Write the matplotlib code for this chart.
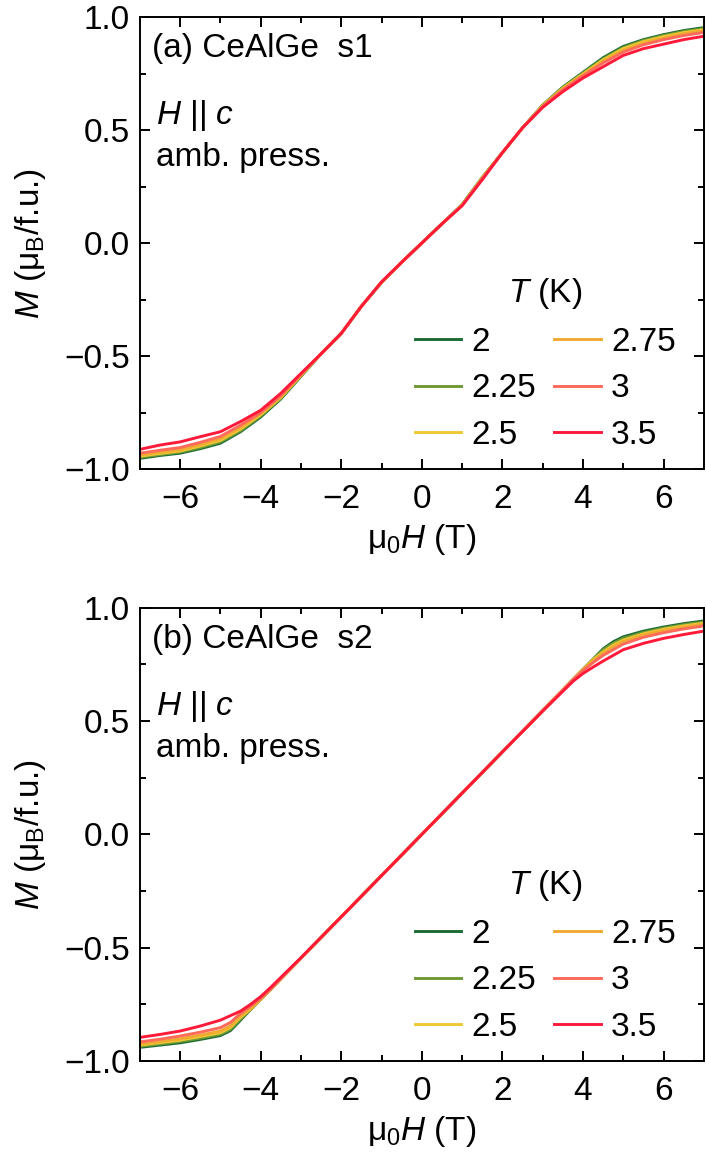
import matplotlib
matplotlib.use("Agg")
import matplotlib.pyplot as plt
from matplotlib.ticker import MultipleLocator

plt.rcParams['font.family'] = ['Liberation Sans', 'DejaVu Sans']
plt.rcParams['mathtext.fontset'] = 'custom'
plt.rcParams['mathtext.rm'] = 'Liberation Sans'
plt.rcParams['mathtext.it'] = 'Liberation Sans:italic'
plt.rcParams['font.size'] = 24
plt.rcParams['axes.linewidth'] = 1.4

# temperatures (K) and line colours
temps = ['2', '2.25', '2.5', '2.75', '3', '3.5']
colors = ['#1d6b35', '#6f9a35', '#f0c832', '#f0aa32', '#ff6a5a', '#ff1a3a']

# panel (a) CeAlGe s1
h_a = [-7, -6.5, -6, -5.5, -5, -4.5, -4, -3.5, -3, -2.5, -2, -1.5, -1, -0.5, 0,
       0.5, 1, 1.5, 2, 2.5, 3, 3.5, 4, 4.5, 5, 5.5, 6, 6.5, 7]
m_a_2 = [-0.953, -0.94, -0.93, -0.91, -0.886, -0.835, -0.77, -0.69, -0.59, -0.49, -0.40, -0.28, -0.175, -0.085, 0.0,
         0.085, 0.17, 0.29, 0.40, 0.51, 0.61, 0.69, 0.755, 0.82, 0.87, 0.90, 0.922, 0.94, 0.953]
m_a_225 = [-0.948, -0.936, -0.925, -0.905, -0.88, -0.83, -0.765, -0.687, -0.588, -0.49, -0.40, -0.28, -0.175, -0.085, 0.0,
           0.085, 0.17, 0.29, 0.40, 0.51, 0.61, 0.688, 0.752, 0.815, 0.865, 0.896, 0.918, 0.936, 0.948]
m_a_25 = [-0.943, -0.931, -0.92, -0.898, -0.873, -0.823, -0.76, -0.683, -0.586, -0.49, -0.40, -0.28, -0.174, -0.085, 0.0,
          0.085, 0.168, 0.288, 0.40, 0.51, 0.608, 0.685, 0.748, 0.81, 0.86, 0.891, 0.913, 0.931, 0.944]
m_a_275 = [-0.938, -0.926, -0.914, -0.892, -0.866, -0.816, -0.755, -0.679, -0.584, -0.49, -0.40, -0.28, -0.174, -0.085, 0.0,
           0.085, 0.168, 0.287, 0.40, 0.51, 0.606, 0.682, 0.744, 0.804, 0.853, 0.885, 0.907, 0.926, 0.94]
m_a_3 = [-0.93, -0.917, -0.905, -0.882, -0.856, -0.806, -0.75, -0.675, -0.582, -0.49, -0.40, -0.28, -0.173, -0.085, 0.0,
         0.085, 0.167, 0.285, 0.40, 0.51, 0.605, 0.678, 0.74, 0.797, 0.845, 0.877, 0.90, 0.918, 0.932]
m_a_35 = [-0.913, -0.894, -0.88, -0.857, -0.835, -0.79, -0.74, -0.665, -0.577, -0.49, -0.40, -0.28, -0.172, -0.085, 0.0,
          0.085, 0.165, 0.28, 0.40, 0.51, 0.60, 0.67, 0.73, 0.78, 0.83, 0.86, 0.88, 0.90, 0.915]

# panel (b) CeAlGe s2
h_b = [-7, -6.5, -6, -5.5, -5, -4.75, -4.5, -4.25, -4, -3.75, -3, -2, -1, 0,
       1, 2, 3, 3.75, 4, 4.25, 4.5, 4.75, 5, 5.5, 6, 6.5, 7]
m_b_2 = [-0.94, -0.93, -0.92, -0.905, -0.888, -0.866, -0.82, -0.773, -0.728, -0.683, -0.546, -0.364, -0.182, 0,
         0.182, 0.364, 0.546, 0.683, 0.728, 0.773, 0.819, 0.85, 0.872, 0.897, 0.915, 0.93, 0.942]
m_b_225 = [-0.935, -0.925, -0.914, -0.899, -0.882, -0.86, -0.815, -0.773, -0.728, -0.683, -0.546, -0.364, -0.182, 0,
           0.182, 0.364, 0.546, 0.683, 0.728, 0.773, 0.815, 0.843, 0.865, 0.891, 0.91, 0.925, 0.937]
m_b_25 = [-0.93, -0.919, -0.908, -0.892, -0.875, -0.852, -0.807, -0.771, -0.728, -0.683, -0.546, -0.364, -0.182, 0,
          0.182, 0.364, 0.546, 0.683, 0.728, 0.771, 0.805, 0.835, 0.857, 0.885, 0.905, 0.92, 0.932]
m_b_275 = [-0.925, -0.914, -0.902, -0.886, -0.868, -0.845, -0.80, -0.767, -0.727, -0.683, -0.546, -0.364, -0.182, 0,
           0.182, 0.364, 0.546, 0.683, 0.727, 0.767, 0.80, 0.828, 0.851, 0.88, 0.90, 0.915, 0.928]
m_b_3 = [-0.916, -0.904, -0.89, -0.873, -0.853, -0.83, -0.79, -0.758, -0.723, -0.682, -0.546, -0.364, -0.182, 0,
         0.182, 0.364, 0.546, 0.682, 0.723, 0.758, 0.79, 0.815, 0.84, 0.87, 0.89, 0.907, 0.92]
m_b_35 = [-0.896, -0.883, -0.868, -0.846, -0.82, -0.80, -0.78, -0.75, -0.716, -0.675, -0.544, -0.364, -0.182, 0,
          0.182, 0.364, 0.544, 0.675, 0.71, 0.738, 0.765, 0.79, 0.815, 0.843, 0.865, 0.882, 0.897]

panels = [
    ('(a) CeAlGe  s1', h_a, [m_a_2, m_a_225, m_a_25, m_a_275, m_a_3, m_a_35]),
    ('(b) CeAlGe  s2', h_b, [m_b_2, m_b_225, m_b_25, m_b_275, m_b_3, m_b_35]),
]

fig = plt.figure(figsize=(7.06, 11.65), dpi=100)
ax_a = fig.add_axes([0.198, 0.5974, 0.799, 0.388])
ax_b = fig.add_axes([0.198, 0.0893, 0.799, 0.389])

for ax, (title, h, curves) in zip([ax_a, ax_b], panels):
    for m, t, c in zip(curves, temps, colors):
        ax.plot(h, m, color=c, lw=2.1, label=t)

    ax.set_xlim(-7, 7)
    ax.set_ylim(-1, 1)
    ax.xaxis.set_major_locator(MultipleLocator(2))
    ax.xaxis.set_minor_locator(MultipleLocator(1))
    ax.yaxis.set_major_locator(MultipleLocator(0.5))
    ax.yaxis.set_minor_locator(MultipleLocator(0.25))
    ax.tick_params(which='both', direction='in', top=True, right=True, width=1.4)
    ax.tick_params(which='major', length=7)
    ax.tick_params(which='minor', length=4)
    ax.tick_params(axis='x', which='major', pad=11)
    ax.tick_params(axis='y', which='major', pad=7)

    ax.set_xlabel(r'μ$_\mathregular{0}$$H$ (T)', labelpad=5)
    ax.set_ylabel(r'$M$ (μ$_\mathregular{B}$/f.u.)', labelpad=12)

    ax.text(0.021, 0.931, title, transform=ax.transAxes, ha='left', va='center')
    ax.text(0.028, 0.783, r'$H$ || $c$', transform=ax.transAxes, ha='left', va='center')
    ax.text(0.028, 0.69, 'amb. press.', transform=ax.transAxes, ha='left', va='center')

    ax.legend(ncol=2, title=r'$T$ (K)', frameon=False, loc='lower right',
              bbox_to_anchor=(0.95, 0.04), borderpad=0, borderaxespad=0,
              handlelength=1.4, handletextpad=0.3, columnspacing=0.55,
              labelspacing=0.47, fontsize=24, title_fontsize=24)

fig.savefig('out.png', dpi=100)
